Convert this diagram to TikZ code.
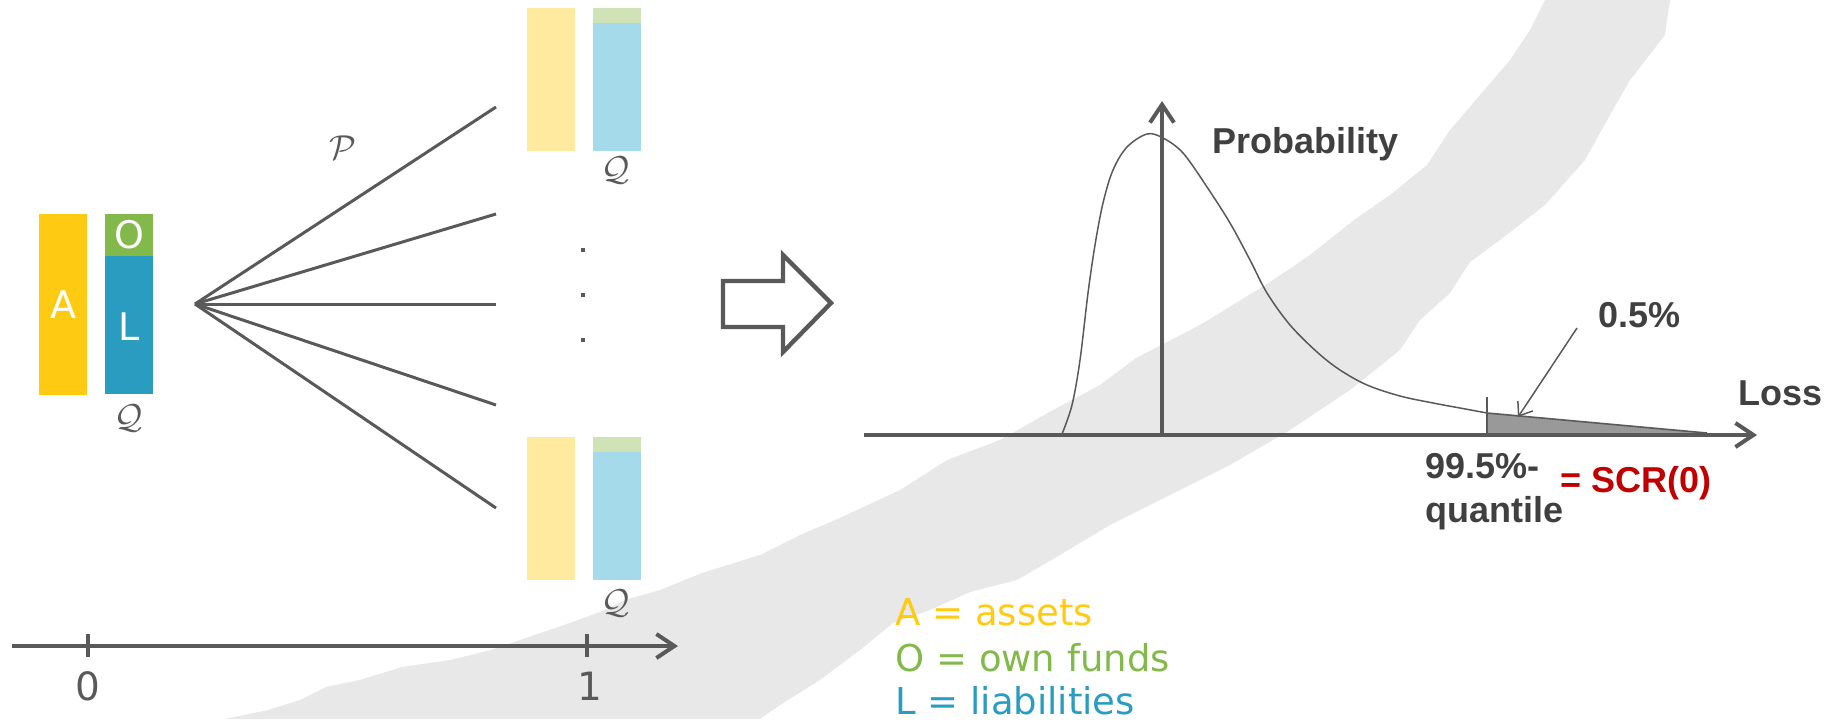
\documentclass[tikz,border=0pt]{standalone}
\usepackage{fontspec}
\setmainfont{DejaVu Sans}
\newfontfamily\lsans{Liberation Sans}
\usetikzlibrary{arrows.meta}
\definecolor{lineg}{HTML}{595959}
\definecolor{textg}{HTML}{404040}
\definecolor{blob}{HTML}{E8E8E8}
\definecolor{ayel}{HTML}{FFCB12}
\definecolor{ogrn}{HTML}{82B94A}
\definecolor{lblu}{HTML}{2A9CC0}
\definecolor{ayelf}{HTML}{FFEAA0}
\definecolor{ogrnf}{HTML}{CFE3B7}
\definecolor{lbluf}{HTML}{A4DAEA}
\definecolor{scrred}{HTML}{C00000}
\definecolor{tailg}{HTML}{999999}
\tikzset{
  barlbl/.style={text=white,font=\fontsize{19}{22}\selectfont,inner sep=0pt},
  calq/.style={text=lineg,font=\fontsize{18}{20}\selectfont,inner sep=0pt},
  fanline/.style={draw=lineg,line width=1.5pt},
  axisline/.style={draw=lineg,line width=2pt,-{Straight Barb[length=9pt,width=12pt,line width=2pt]}},
  digit/.style={text=lineg,font=\fontsize{19.5}{22}\selectfont,inner sep=0pt},
  boldlbl/.style={text=textg,font=\lsans\bfseries\fontsize{18}{21}\selectfont,inner sep=0pt,anchor=base west},
  legend/.style={font=\fontsize{18.5}{21}\selectfont,inner sep=0pt,anchor=base west},
  dotsq/.style={fill=lineg,minimum size=2.4pt,inner sep=0pt,draw=none}
}
\begin{document}
\begin{tikzpicture}[x=0.5pt,y=-0.5pt]
\useasboundingbox (0,0) rectangle (1840,719);
% background blob
\fill[blob] (225,719)--(268,710)--(300,700)--(326,687)--(360,680)--(402,667)--(450,660)--(491,650)--(520,640)--(558,627)--(600,612)--(625,600)--(660,590)--(702,573)--(760,555)--(800,535)--(842,517)--(900,490)--(947,460)--(1000,440)--(1053,410)--(1100,385)--(1136,358)--(1200,325)--(1267,284)--(1310,255)--(1354,220)--(1390,195)--(1427,165)--(1450,130)--(1480,95)--(1510,60)--(1530,30)--(1545,0)
 --(1670,0)--(1665,35)--(1630,80)--(1610,115)--(1585,160)--(1545,205)--(1500,240)--(1470,262)--(1450,293)--(1420,320)--(1400,350)--(1350,390)--(1290,430)--(1230,465)--(1170,495)--(1110,525)--(1060,555)--(1017,580)--(970,592)--(930,610)--(893,623)--(860,650)--(820,680)--(780,705)--(760,719)--cycle;

% left balance sheet
\fill[ayel] (39,214) rectangle (87,395);
\fill[ogrn] (105,214) rectangle (153,256);
\fill[lblu] (105,256) rectangle (153,394);
\node[barlbl] (la) at (63,305) {A};
\node[barlbl] (lo) at (129,235) {O};
\node[barlbl] (ll) at (129,327) {L};
\node[calq] (q0) at (129,418) {$\mathcal{Q}$};

% fan
\coordinate (F) at (195,304);
\coordinate (E1) at (496,107);
\coordinate (E2) at (496,214);
\coordinate (E3) at (496,304);
\coordinate (E4) at (496,405);
\coordinate (E5) at (496,508);
\foreach \e in {E1,E2,E3,E4,E5} \draw[fanline] (F) -- (\e);
\node[calq,font=\fontsize{17}{20}\selectfont] (pp) at (343,148) {$\mathcal{P}$};

% top scenario bars
\fill[ayelf] (527,8) rectangle (575,151);
\fill[ogrnf] (593,8) rectangle (641,23);
\fill[lbluf] (593,23) rectangle (641,151);
\node[calq] (q1) at (616,170) {$\mathcal{Q}$};
% bottom scenario bars
\fill[ayelf] (527,437) rectangle (575,580);
\fill[ogrnf] (593,437) rectangle (641,452);
\fill[lbluf] (593,452) rectangle (641,580);
\node[calq] (q2) at (616,603) {$\mathcal{Q}$};
% dots
\node[dotsq] (d1) at (583,250) {};
\node[dotsq] (d2) at (583,295) {};
\node[dotsq] (d3) at (583,340) {};

% timeline
\coordinate (t0) at (12,646);
\coordinate (t1) at (678,646);
\draw[axisline] (t0) -- (t1);
\draw[draw=lineg,line width=1.6pt] (88,634) -- (88,657);
\draw[draw=lineg,line width=1.6pt] (587,634) -- (587,657);
\node[digit] (n0) at (88,686) {0};
\node[digit] (n1) at (590,686) {1};

% block arrow
\draw[draw=lineg,line width=2.2pt,fill=white,line join=miter]
  (723,281) -- (783,281) -- (783,255) -- (831,303) -- (783,352) -- (783,327) -- (723,327) -- cycle;

% distribution
\fill[tailg] (1487,413) -- (1707,433) -- (1707,435) -- (1487,435) -- cycle;
\draw[draw=lineg,line width=0.8pt] (1487,413) -- (1707,433);
\draw[draw=lineg,line width=0.75pt] plot[smooth,tension=0.55] coordinates {
 (1062,434) (1072,405) (1080,360) (1088,293) (1095,245) (1103,203) (1113,170) (1127,147) (1147,134) (1163,138) (1183,153) (1207,187) (1230,223) (1250,260) (1267,293) (1290,325) (1317,352) (1340,370) (1367,385) (1400,396) (1433,403) (1460,408) (1487,413)};
\coordinate (xa0) at (864,435);
\coordinate (xa1) at (1757,435);
\draw[axisline,line width=1.7pt] (xa0) -- (xa1);
\coordinate (ya0) at (1162,436);
\coordinate (ya1) at (1162,101);
\draw[axisline,line width=1.7pt] (ya0) -- (ya1);
\draw[draw=lineg,line width=0.8pt] (1487,397) -- (1487,435);
\node[boldlbl] (prob) at (1212,153) {Probability};
\node[boldlbl] (loss) at (1738,405) {Loss};
\node[boldlbl] (pct) at (1598,327) {0.5\%};
\node[boldlbl] (q995) at (1425,478) {99.5\%-};
\node[boldlbl] (quant) at (1425,522) {quantile};
\node[boldlbl,text=scrred] (scr) at (1560,492) {= SCR(0)};
\coordinate (annA) at (1577,328);
\coordinate (annB) at (1518,417);
\draw[draw=lineg,line width=0.75pt,-{Straight Barb[length=6pt,width=9pt,line width=0.75pt]}] (annA) -- (annB);

% legend
\node[legend,text=ayel] (lgA) at (895,625) {A = assets};
\node[legend,text=ogrn] (lgO) at (895,671) {O = own funds};
\node[legend,text=lblu] (lgL) at (895,714) {L = liabilities};
\end{tikzpicture}
\end{document}
